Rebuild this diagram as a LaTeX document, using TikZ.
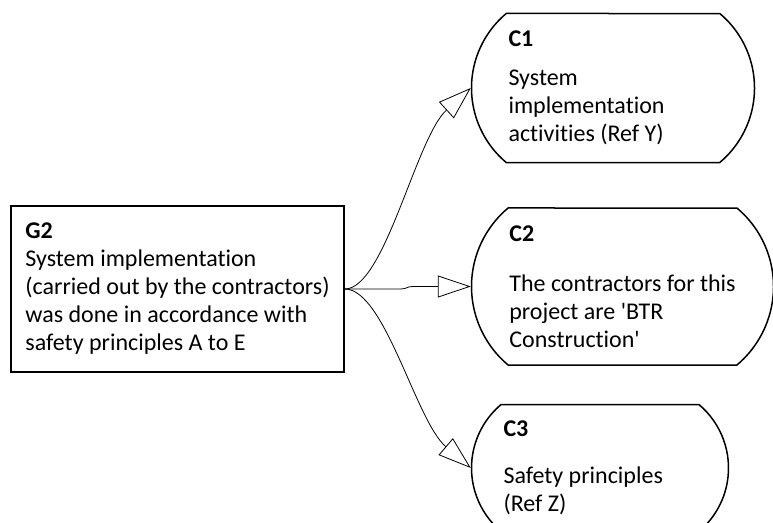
\documentclass[tikz,border=0pt]{standalone}
\usepackage{fontspec}
\setmainfont{Carlito}[Ligatures=NoCommon]
\usetikzlibrary{arrows.meta, positioning, shapes.misc}

\begin{document}
\begin{tikzpicture}[
  x=1pt, y=-1pt,
  font=\fontsize{24}{28}\selectfont,
  goal/.style={
    draw=black, line width=1.5pt, inner sep=0pt, align=flush left,
    minimum width=333pt, minimum height=166pt
  },
  context/.style={
    rounded rectangle, rounded rectangle arc length=100,
    draw=black, line width=1.5pt, inner sep=0pt, align=flush left
  },
  link/.style={line width=0.8pt, -{Triangle[open, length=33pt, width=22pt]}}
]
  \useasboundingbox (0,0) rectangle (773,522);

  % goal and its three contexts
  \node[goal] (G2) at (177.5,289) {\textbf{G2}\\System implementation\\(carried out by the contractors)\\was done in accordance with\\safety principles A to E};
  \node[context, minimum width=302pt, minimum height=157pt,
        right=126pt of G2, yshift=2.5pt] (C2) {\textbf{C2}\\[22pt]The contractors for this\\project are \textquotesingle BTR\\Construction\textquotesingle};
  \node[context, minimum width=283pt, minimum height=149pt, text width=209pt,
        above=44pt of C2, xshift=-9.5pt] (C1) {\textbf{C1}\\[11pt]System\\implementation\\activities (Ref Y)};
  \node[context, minimum width=257pt, minimum height=127pt, text width=193pt,
        below=38pt of C2, xshift=-22.5pt] (C3) {\textbf{C3}\\[19pt]Safety principles\\(Ref Z)};

  % in-context-of links
  \draw[link] (G2.east) .. controls +(40,0) and +(-55,50) .. (C1.west);
  \draw[link] (G2.east) -- ++(56,0) .. controls +(6,0) and +(-6,0) .. ++(12,-2.5) -- (C2.west);
  \draw[link] (G2.east) .. controls +(40,0) and +(-55,-47) .. (C3.west);
\end{tikzpicture}
\end{document}
